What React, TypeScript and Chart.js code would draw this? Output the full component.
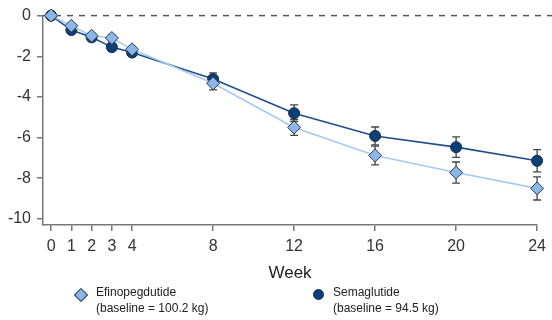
import React, { useEffect, useRef } from "react";
import { Chart, registerables } from "chart.js";

Chart.register(...registerables);

const weeks = [0, 1, 2, 3, 4, 8, 12, 16, 20, 24];
const efinoValues = [0, -0.5, -0.99, -1.1, -1.66, -3.33, -5.5, -6.88, -7.72, -8.5];
const efinoErrors = [0, 0.1, 0.12, 0.14, 0.15, 0.32, 0.39, 0.46, 0.52, 0.57];
const semaValues = [0, -0.71, -1.07, -1.55, -1.82, -3.12, -4.8, -5.92, -6.47, -7.14];
const semaErrors = [0, 0.1, 0.12, 0.15, 0.17, 0.3, 0.41, 0.44, 0.5, 0.55];
const xTicks = [0, 1, 2, 3, 4, 8, 12, 16, 20, 24];
const yTicks = [0, -2, -4, -6, -8, -10];

const FONT = "'Liberation Sans', Arial, sans-serif";

const errorBarPlugin = {
  id: "errorBars",
  beforeDatasetsDraw(chart: any) {
    const { ctx, chartArea, scales } = chart;
    const x = scales.x;
    const y = scales.y;
    ctx.save();
    ctx.strokeStyle = "#555555";
    ctx.lineWidth = 1.5;
    ctx.setLineDash([6, 6]);
    const y0 = y.getPixelForValue(0);
    ctx.beginPath();
    ctx.moveTo(chartArea.left, y0);
    ctx.lineTo(chart.width, y0);
    ctx.stroke();
    ctx.restore();

    ctx.save();
    ctx.strokeStyle = "#444444";
    ctx.lineWidth = 1.3;
    chart.data.datasets.forEach((ds: any) => {
      const errs: number[] = ds.errors || [];
      ds.data.forEach((pt: any, i: number) => {
        const e = errs[i];
        if (!e) return;
        const px = x.getPixelForValue(pt.x);
        const top = y.getPixelForValue(pt.y + e);
        const bot = y.getPixelForValue(pt.y - e);
        ctx.beginPath();
        ctx.moveTo(px, top);
        ctx.lineTo(px, bot);
        ctx.moveTo(px - 4, top);
        ctx.lineTo(px + 4, top);
        ctx.moveTo(px - 4, bot);
        ctx.lineTo(px + 4, bot);
        ctx.stroke();
      });
    });
    ctx.restore();
  },
};

export default function App() {
  const canvasRef = useRef<HTMLCanvasElement | null>(null);

  useEffect(() => {
    if (!canvasRef.current) return;
    const chart = new Chart(canvasRef.current, {
      type: "line",
      data: {
        datasets: [
          {
            label: "Efinopegdutide",
            data: weeks.map((w, i) => ({ x: w, y: efinoValues[i] })),
            errors: efinoErrors,
            borderColor: "#a5c9f0",
            borderWidth: 1.6,
            pointStyle: "rectRot",
            pointRadius: 6.5,
            pointHoverRadius: 6.5,
            pointBackgroundColor: "#8cb6e8",
            pointBorderColor: "#2e3a48",
            pointBorderWidth: 1,
            clip: false,
            tension: 0,
          } as any,
          {
            label: "Semaglutide",
            data: weeks.map((w, i) => ({ x: w, y: semaValues[i] })),
            errors: semaErrors,
            borderColor: "#1d4f8c",
            borderWidth: 1.6,
            pointStyle: "circle",
            pointRadius: 5.5,
            pointHoverRadius: 5.5,
            pointBackgroundColor: "#0b3f7a",
            pointBorderColor: "#1a2a40",
            pointBorderWidth: 1,
            clip: false,
            tension: 0,
          } as any,
        ],
      },
      options: {
        animation: false,
        responsive: false,
        maintainAspectRatio: false,
        layout: { padding: { top: 13, right: 11, left: 0, bottom: 35 } },
        plugins: {
          legend: { display: false },
          tooltip: { enabled: false },
        },
        scales: {
          x: {
            type: "linear",
            min: -0.4,
            max: 24,
            afterFit(scale: any) {
              scale.height = 60;
            },
            afterBuildTicks(scale: any) {
              scale.ticks = xTicks.map((v) => ({ value: v }));
            },
            grid: {
              drawOnChartArea: false,
              color: "#777777",
              lineWidth: 1.5,
              tickLength: 6,
            },
            border: { color: "#777777", width: 1.5 },
            ticks: {
              color: "#333333",
              padding: 6,
              maxRotation: 0,
              autoSkip: false,
              font: { family: FONT, size: 16 },
            },
            title: {
              display: true,
              text: "Week",
              color: "#222222",
              font: { family: FONT, size: 17 },
              padding: { top: 0, bottom: 1 },
            },
          },
          y: {
            type: "linear",
            min: -10.3,
            max: 0,
            afterFit(scale: any) {
              scale.width = 43;
            },
            afterBuildTicks(scale: any) {
              scale.ticks = yTicks.map((v) => ({ value: v }));
            },
            grid: {
              drawOnChartArea: false,
              color: "#777777",
              lineWidth: 1.5,
              tickLength: 6,
            },
            border: { color: "#777777", width: 1.5 },
            ticks: {
              color: "#333333",
              padding: 6,
              font: { family: FONT, size: 16 },
            },
          },
        },
      } as any,
      plugins: [errorBarPlugin],
    });
    return () => chart.destroy();
  }, []);

  const textStyle: React.CSSProperties = {
    position: "absolute",
    fontFamily: FONT,
    fontSize: 12,
    lineHeight: "15.5px",
    color: "#222222",
    whiteSpace: "nowrap",
  };

  return (
    <div
      style={{
        position: "fixed",
        left: 0,
        top: 0,
        width: 552,
        height: 320,
        background: "#ffffff",
        overflow: "hidden",
      }}
    >
      <canvas ref={canvasRef} width={552} height={320} style={{ display: "block" }} />
      <div
        style={{
          position: "absolute",
          left: 80.7 - 4.5,
          top: 294 - 4.5,
          width: 8,
          height: 8,
          background: "#8cb6e8",
          border: "1px solid #2e3a48",
          transform: "rotate(45deg)",
        }}
      />
      <div style={{ ...textStyle, left: 96, top: 285 }}>
        Efinopegdutide
        <br />
        (baseline = 100.2 kg)
      </div>
      <div
        style={{
          position: "absolute",
          left: 318 - 5.5,
          top: 294 - 5.5,
          width: 9,
          height: 9,
          borderRadius: "50%",
          background: "#0b3f7a",
          border: "1px solid #1a2a40",
        }}
      />
      <div style={{ ...textStyle, left: 333, top: 285 }}>
        Semaglutide
        <br />
        (baseline = 94.5 kg)
      </div>
    </div>
  );
}
